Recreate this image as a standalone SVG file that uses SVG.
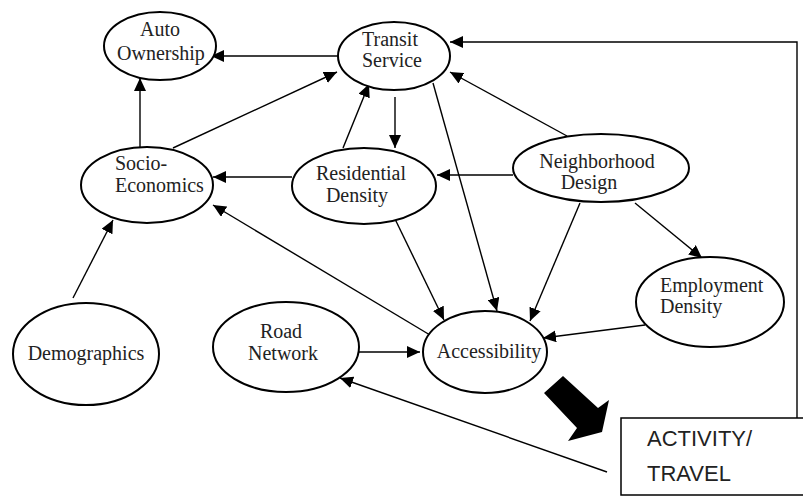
<svg xmlns="http://www.w3.org/2000/svg" width="803" height="497" viewBox="0 0 803 497">
<style>
.node ellipse{fill:#fff;stroke:#000;stroke-width:2}
.node text{font-family:"Liberation Serif","Times New Roman",serif;font-size:20px;fill:#222;text-anchor:middle}
.node text.l{text-anchor:start}
#connectors line,#connectors polyline{stroke:#000;stroke-width:1.4;fill:none;marker-end:url(#ah)}
.box text{font-family:"Liberation Sans",Arial,sans-serif;font-size:22px;fill:#222}
</style>
<defs>
<marker id="ah" markerUnits="userSpaceOnUse" markerWidth="14" markerHeight="12" refX="13" refY="6" orient="auto">
<path d="M0,0 L13,6 L0,12 Z" fill="#000"/>
</marker>
</defs>
<rect width="803" height="497" fill="#fff"/>
<g id="connectors">
<line x1="338" y1="56" x2="211" y2="56"/>
<line x1="140" y1="147" x2="140" y2="78"/>
<line x1="173" y1="148" x2="337" y2="72"/>
<line x1="343" y1="148" x2="369" y2="84"/>
<line x1="395" y1="97" x2="395" y2="148"/>
<line x1="292" y1="177" x2="213" y2="177"/>
<line x1="513" y1="175" x2="437" y2="175"/>
<line x1="567" y1="136" x2="450" y2="72"/>
<line x1="433" y1="83" x2="497" y2="311"/>
<line x1="395" y1="219" x2="444" y2="320"/>
<line x1="580" y1="203" x2="530" y2="321"/>
<line x1="635" y1="203" x2="702" y2="258"/>
<line x1="645" y1="325" x2="543" y2="338"/>
<line x1="430" y1="335" x2="213" y2="205"/>
<line x1="73" y1="298" x2="113" y2="220"/>
<line x1="357" y1="352" x2="420" y2="352"/>
<line x1="607" y1="472" x2="340" y2="378"/>
<polyline points="797,418 797,42 450,42"/>
<polygon points="544,393 563,376 598,408 609,400 602,432 568,441 577,428" fill="#000" stroke="none"/>
</g>
<g id="auto-ownership" class="node">
<ellipse cx="160" cy="46" rx="56" ry="34"/>
<text x="160" y="36">Auto</text>
<text x="161" y="60">Ownership</text>
</g>
<g id="transit-service" class="node">
<ellipse cx="394" cy="56" rx="56" ry="34"/>
<text x="390" y="46">Transit</text>
<text x="392" y="67">Service</text>
</g>
<g id="socio-economics" class="node">
<ellipse cx="147" cy="185" rx="66" ry="38"/>
<text class="l" x="115" y="170">Socio-</text>
<text class="l" x="115" y="192">Economics</text>
</g>
<g id="residential-density" class="node">
<ellipse cx="364" cy="186" rx="72" ry="38"/>
<text x="361" y="180">Residential</text>
<text x="357" y="202">Density</text>
</g>
<g id="neighborhood-design" class="node">
<ellipse cx="601" cy="168" rx="88" ry="34"/>
<text x="597" y="168">Neighborhood</text>
<text x="589" y="189">Design</text>
</g>
<g id="employment-density" class="node">
<ellipse cx="710" cy="302" rx="74" ry="45"/>
<text class="l" x="660" y="292">Employment</text>
<text class="l" x="660" y="313">Density</text>
</g>
<g id="accessibility" class="node">
<ellipse cx="485" cy="352" rx="62" ry="41"/>
<text x="489" y="358">Accessibility</text>
</g>
<g id="demographics" class="node">
<ellipse cx="86" cy="354" rx="73" ry="51"/>
<text x="86" y="360">Demographics</text>
</g>
<g id="road-network" class="node">
<ellipse cx="286" cy="347" rx="73" ry="45"/>
<text x="281" y="338">Road</text>
<text x="283" y="360">Network</text>
</g>
<g id="activity-travel" class="box">
<rect x="621" y="418" width="200" height="77" fill="#fff" stroke="#000" stroke-width="1.5"/>
<text x="647" y="446">ACTIVITY/</text>
<text x="647" y="481">TRAVEL</text>
</g>
</svg>
